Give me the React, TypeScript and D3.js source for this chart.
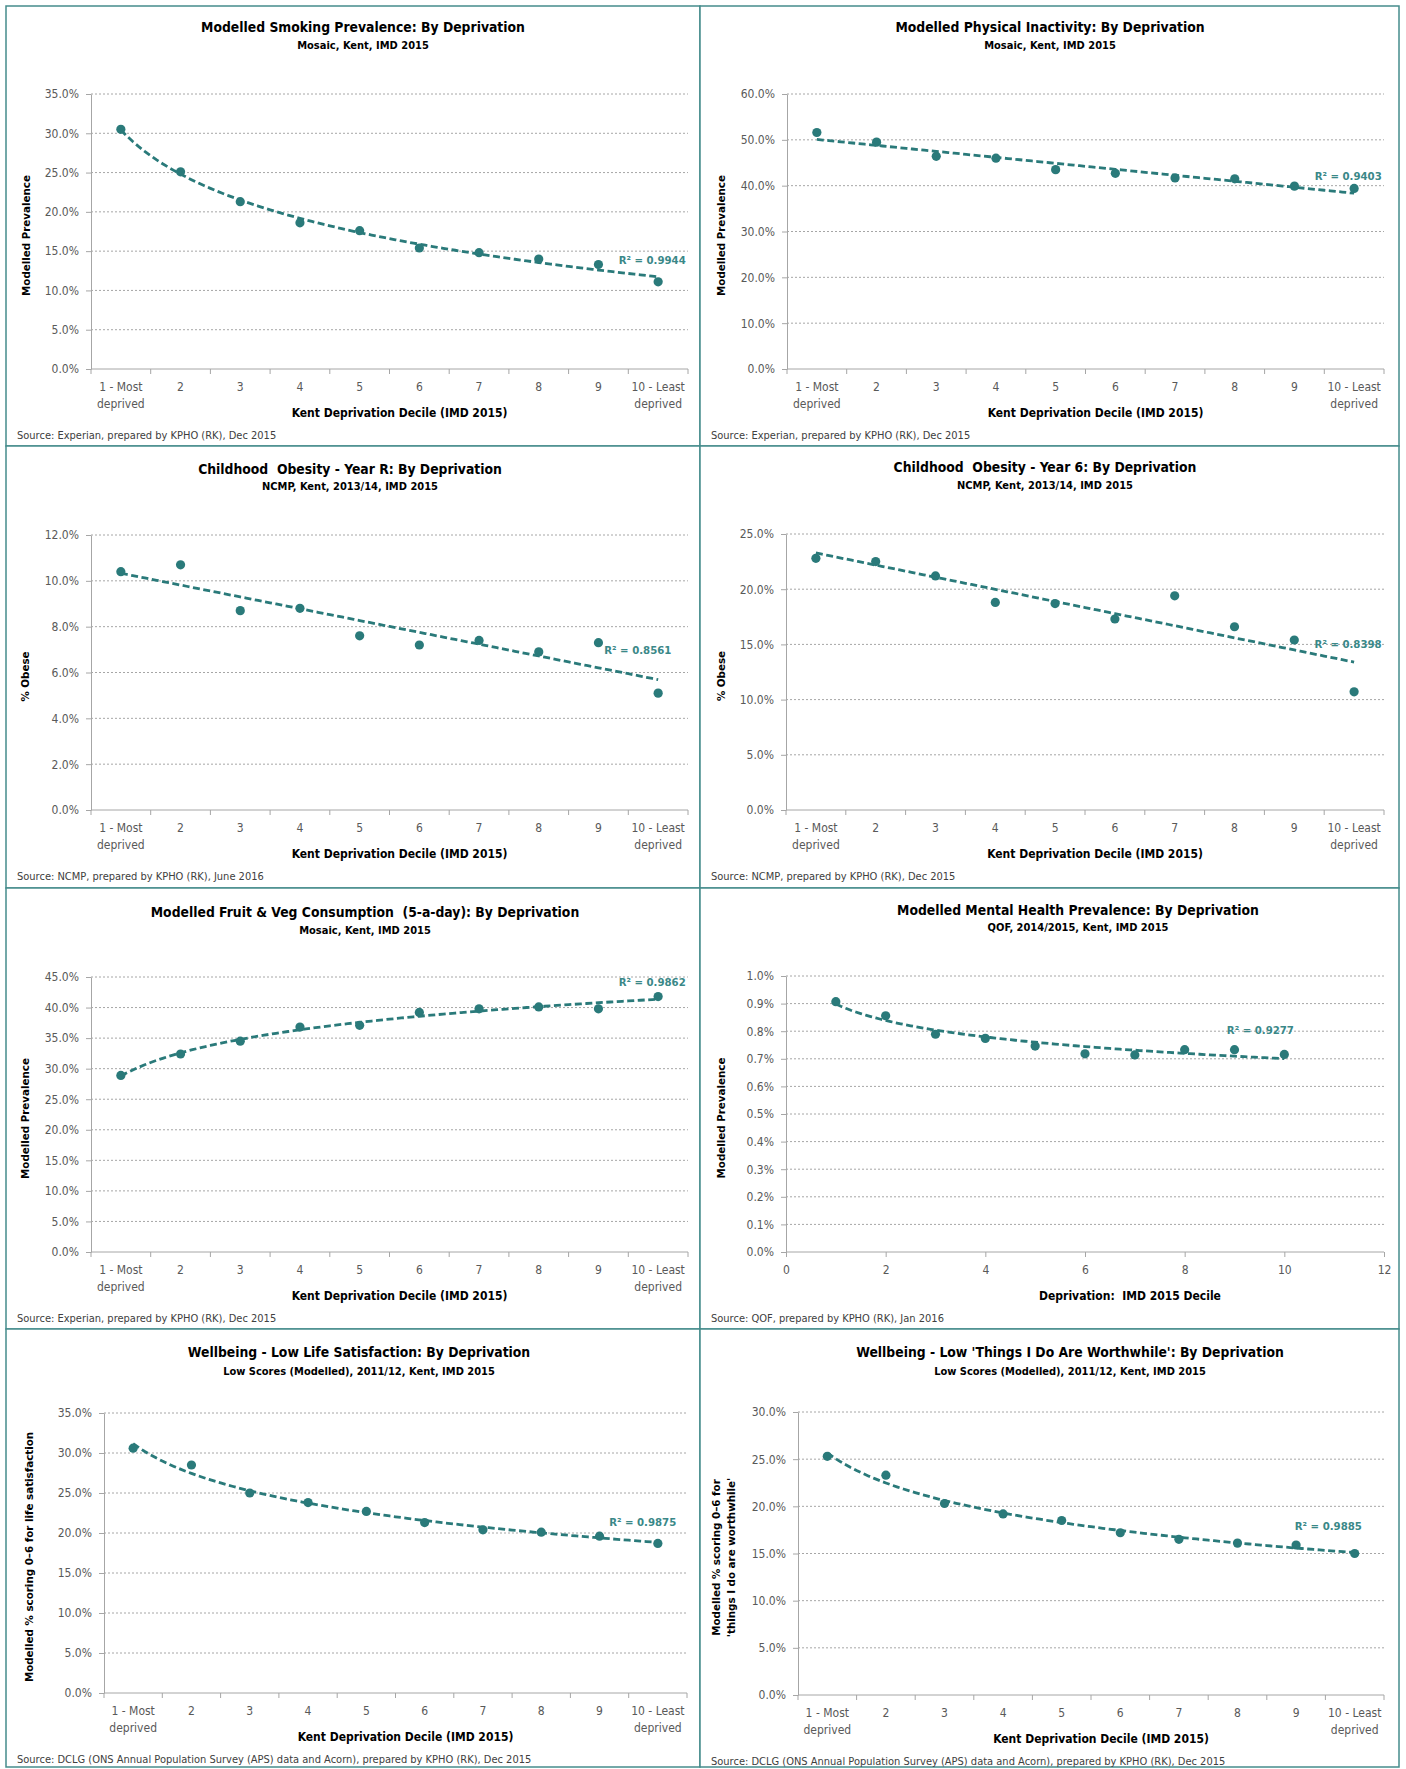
import React, { useEffect, useRef } from 'react';
import * as d3 from 'd3';

// categories (deciles) and their two-line labels
const deciles = ['1 - Most deprived', '2', '3', '4', '5', '6', '7', '8', '9', '10 - Least deprived'];
const decileLines = [['1 - Most', 'deprived'], ['2'], ['3'], ['4'], ['5'], ['6'], ['7'], ['8'], ['9'], ['10 - Least', 'deprived']];
const decileNums = [1, 2, 3, 4, 5, 6, 7, 8, 9, 10];
const mentalTicks = [0, 2, 4, 6, 8, 10, 12];

// series values (percent)
const smoking = [30.5, 25.1, 21.3, 18.6, 17.6, 15.4, 14.8, 14.0, 13.3, 11.1];
const inactivity = [51.6, 49.5, 46.4, 46.0, 43.5, 42.7, 41.7, 41.5, 39.9, 39.4];
const obesityR = [10.4, 10.7, 8.7, 8.8, 7.6, 7.2, 7.4, 6.9, 7.3, 5.1];
const obesity6 = [22.8, 22.5, 21.2, 18.8, 18.7, 17.3, 19.4, 16.6, 15.4, 10.7];
const fruitVeg = [28.9, 32.4, 34.5, 36.8, 37.1, 39.2, 39.8, 40.1, 39.8, 41.8];
const mentalHealth = [0.907, 0.856, 0.789, 0.774, 0.746, 0.718, 0.714, 0.733, 0.733, 0.716];
const lifeSatisfaction = [30.6, 28.5, 25.0, 23.8, 22.7, 21.3, 20.4, 20.1, 19.6, 18.7];
const worthwhile = [25.3, 23.3, 20.3, 19.2, 18.5, 17.2, 16.5, 16.1, 15.9, 15.0];

// R² labels as printed
const r2Labels = ['0.9944', '0.9403', '0.8561', '0.8398', '0.9862', '0.9277', '0.9875', '0.9885'];

const KENT_X = 'Kent Deprivation Decile (IMD 2015)';
const SRC_EXPERIAN = 'Source: Experian, prepared by KPHO (RK), Dec 2015';
const SRC_DCLG = 'Source: DCLG (ONS Annual Population Survey (APS) data and Acorn), prepared by KPHO (RK), Dec 2015';

const TEAL = '#2a7a7a';
const BORDER = '#468c8c';
const AXIS = '#a6a6a6';
const GRID = '#a6a6a6';
const FONT = "'DejaVu Sans Condensed', 'Liberation Sans', Arial, sans-serif";
const YFONT = "'DejaVu Sans', Verdana, sans-serif";

const panels = [
  { values: smoking, r2: r2Labels[0], fit: 'log', yMax: 35, yStep: 5, dec: 1,
    title: 'Modelled Smoking Prevalence: By Deprivation', subtitle: 'Mosaic, Kent, IMD 2015',
    yTitle: ['Modelled Prevalence'], xTitle: KENT_X, source: SRC_EXPERIAN,
    x0: 6, y0: 6, w: 694, h: 440, left: 85, right: 682, top: 88, bottom: 363,
    titleX: 357, titleY: 26, subY: 43, yTitleX: [24], labelAt: [9.9, 13.9] },
  { values: inactivity, r2: r2Labels[1], fit: 'linear', yMax: 60, yStep: 10, dec: 1,
    title: 'Modelled Physical Inactivity: By Deprivation', subtitle: 'Mosaic, Kent, IMD 2015',
    yTitle: ['Modelled Prevalence'], xTitle: KENT_X, source: SRC_EXPERIAN,
    x0: 700, y0: 6, w: 699, h: 440, left: 87, right: 684, top: 88, bottom: 363,
    titleX: 350, titleY: 26, subY: 43, yTitleX: [25], labelAt: [9.9, 42.0] },
  { values: obesityR, r2: r2Labels[2], fit: 'linear', yMax: 12, yStep: 2, dec: 1,
    title: 'Childhood  Obesity - Year R: By Deprivation', subtitle: 'NCMP, Kent, 2013/14, IMD 2015',
    yTitle: ['% Obese'], xTitle: KENT_X, source: 'Source: NCMP, prepared by KPHO (RK), June 2016',
    x0: 6, y0: 446, w: 694, h: 442, left: 85, right: 682, top: 89, bottom: 364,
    titleX: 344, titleY: 28, subY: 44, yTitleX: [23], labelAt: [9.66, 6.98] },
  { values: obesity6, r2: r2Labels[3], fit: 'linear', yMax: 25, yStep: 5, dec: 1,
    title: 'Childhood  Obesity - Year 6: By Deprivation', subtitle: 'NCMP, Kent, 2013/14, IMD 2015',
    yTitle: ['% Obese'], xTitle: KENT_X, source: 'Source: NCMP, prepared by KPHO (RK), Dec 2015',
    x0: 700, y0: 446, w: 699, h: 442, left: 86, right: 684, top: 88, bottom: 364,
    titleX: 345, titleY: 26, subY: 43, yTitleX: [24.5], labelAt: [9.9, 15.06] },
  { values: fruitVeg, r2: r2Labels[4], fit: 'log', yMax: 45, yStep: 5, dec: 1,
    title: 'Modelled Fruit & Veg Consumption  (5-a-day): By Deprivation', subtitle: 'Mosaic, Kent, IMD 2015',
    yTitle: ['Modelled Prevalence'], xTitle: KENT_X, source: SRC_EXPERIAN,
    x0: 6, y0: 888, w: 694, h: 441, left: 85, right: 682, top: 89, bottom: 364,
    titleX: 359, titleY: 28.5, subY: 45.5, yTitleX: [23], labelAt: [9.9, 44.1] },
  { values: mentalHealth, r2: r2Labels[5], fit: 'log', yMax: 1.0, yStep: 0.1, dec: 1, numericX: true,
    title: 'Modelled Mental Health Prevalence: By Deprivation', subtitle: 'QOF, 2014/2015, Kent, IMD 2015',
    yTitle: ['Modelled Prevalence'], xTitle: 'Deprivation:  IMD 2015 Decile', source: 'Source: QOF, prepared by KPHO (RK), Jan 2016',
    x0: 700, y0: 888, w: 699, h: 441, left: 86, right: 684, top: 88, bottom: 364,
    titleX: 378, titleY: 26.5, subY: 43, yTitleX: [25], labelAt: [9.52, 0.803], xTitleX: 430 },
  { values: lifeSatisfaction, r2: r2Labels[6], fit: 'log', yMax: 35, yStep: 5, dec: 1,
    title: 'Wellbeing - Low Life Satisfaction: By Deprivation', subtitle: 'Low Scores (Modelled), 2011/12, Kent, IMD 2015',
    yTitle: ['Modelled % scoring 0–6 for life satisfaction'], xTitle: KENT_X, source: SRC_DCLG,
    x0: 6, y0: 1329, w: 694, h: 438, left: 98, right: 681, top: 84, bottom: 364,
    titleX: 353, titleY: 28.3, subY: 46, yTitleX: [26.5], labelAt: [9.74, 21.4] },
  { values: worthwhile, r2: r2Labels[7], fit: 'log', yMax: 30, yStep: 5, dec: 1,
    title: "Wellbeing - Low 'Things I Do Are Worthwhile': By Deprivation", subtitle: 'Low Scores (Modelled), 2011/12, Kent, IMD 2015',
    yTitle: ['Modelled % scoring 0–6 for', "'things I do are worthwhile'"], xTitle: KENT_X, source: SRC_DCLG,
    x0: 700, y0: 1329, w: 699, h: 438, left: 98, right: 684, top: 83, bottom: 366,
    titleX: 370, titleY: 28.3, subY: 46, yTitleX: [20, 35], labelAt: [9.55, 17.9] },
];

// least squares fit, linear or logarithmic (Excel style trendline)
const trend = (xs: number[], ys: number[], type: string) => {
  const tx = xs.map(x => (type === 'log' ? Math.log(x) : x));
  const mx = d3.mean(tx) as number;
  const my = d3.mean(ys) as number;
  const b = d3.sum(tx, (t, i) => (t - mx) * (ys[i] - my)) / d3.sum(tx, t => (t - mx) ** 2);
  const a = my - b * mx;
  return (x: number) => a + b * (type === 'log' ? Math.log(x) : x);
};

const drawPanel = (svg: any, p: any) => {
  const g = svg.append('g').attr('transform', `translate(${p.x0},${p.y0})`);

  g.append('rect')
    .attr('width', p.w).attr('height', p.h)
    .attr('fill', 'white').attr('stroke', BORDER).attr('stroke-width', 1.5);

  const y = d3.scaleLinear().domain([0, p.yMax]).range([p.bottom, p.top]);
  const ticks = d3.range(0, p.yMax + p.yStep / 2, p.yStep);

  // x position of a decile value
  let xScale: (v: number) => number;
  if (p.numericX) {
    const xl = d3.scaleLinear().domain([0, 12]).range([p.left, p.right]);
    xScale = v => xl(v);
    const xa = g.append('g').attr('transform', `translate(0,${p.bottom})`)
      .call(d3.axisBottom(xl).tickValues(mentalTicks).tickSize(5).tickSizeOuter(0).tickPadding(8.5));
    xa.select('.domain').remove();
    xa.attr('font-family', FONT).attr('font-size', 12);
    xa.selectAll('.tick line').attr('stroke', AXIS);
    xa.selectAll('.tick text').attr('fill', '#595959');
  } else {
    const xb = d3.scaleBand().domain(deciles).range([p.left, p.right]);
    const xl = d3.scaleLinear().domain([1, 10])
      .range([(xb(deciles[0]) as number) + xb.bandwidth() / 2, (xb(deciles[9]) as number) + xb.bandwidth() / 2]);
    xScale = v => xl(v);

    // category labels
    const xa = g.append('g').attr('transform', `translate(0,${p.bottom})`)
      .call(d3.axisBottom(xb).tickSize(0).tickPadding(13.5));
    xa.select('.domain').remove();
    xa.attr('font-family', FONT).attr('font-size', 12);
    xa.selectAll('.tick text').attr('fill', '#595959').each(function (this: any, d: any) {
      const t = d3.select(this);
      t.text(null);
      decileLines[deciles.indexOf(d)].forEach((line, i) => {
        t.append('tspan').attr('x', 0).attr('dy', i === 0 ? '0.71em' : '1.42em').text(line);
      });
    });
    // tick marks between categories
    g.append('g').selectAll('line')
      .data([...deciles.map(d => xb(d) as number), p.right])
      .join('line')
      .attr('x1', (d: number) => d).attr('x2', (d: number) => d)
      .attr('y1', p.bottom).attr('y2', p.bottom + 5)
      .attr('stroke', AXIS);
  }

  // gridlines
  g.append('g').selectAll('line')
    .data(ticks.filter(t => t > 0))
    .join('line')
    .attr('x1', p.left).attr('x2', p.right)
    .attr('y1', (d: number) => y(d)).attr('y2', (d: number) => y(d))
    .attr('stroke', GRID).attr('stroke-width', 1).attr('stroke-dasharray', '2,2');

  // x axis line
  g.append('line')
    .attr('x1', p.left).attr('x2', p.right).attr('y1', p.bottom).attr('y2', p.bottom)
    .attr('stroke', AXIS);

  // y axis
  const ya = g.append('g').attr('transform', `translate(${p.left},0)`)
    .call(d3.axisLeft(y).tickValues(ticks)
      .tickFormat((d: any) => `${(+d).toFixed(p.dec)}%`)
      .tickSize(5).tickSizeOuter(0).tickPadding(7));
  ya.attr('font-family', FONT).attr('font-size', 12);
  ya.select('.domain').attr('stroke', AXIS);
  ya.selectAll('.tick line').attr('stroke', AXIS);
  ya.selectAll('.tick text').attr('fill', '#595959');

  // trendline
  const f = trend(decileNums, p.values, p.fit);
  const line = d3.line<number>().x(v => xScale(v)).y(v => y(f(v)));
  g.append('path')
    .datum(d3.range(1, 10.001, 0.1))
    .attr('d', line)
    .attr('fill', 'none')
    .attr('stroke', TEAL).attr('stroke-width', 2.8)
    .attr('stroke-dasharray', '7,3.5');

  // points
  g.append('g').selectAll('circle')
    .data(p.values)
    .join('circle')
    .attr('cx', (_: number, i: number) => xScale(decileNums[i]))
    .attr('cy', (d: number) => y(d))
    .attr('r', 4.6)
    .attr('fill', TEAL);

  // R² label
  g.append('text')
    .attr('x', xScale(p.labelAt[0])).attr('y', y(p.labelAt[1]))
    .attr('dy', '0.35em')
    .attr('text-anchor', 'middle')
    .attr('font-family', FONT).attr('font-size', 11.3).attr('font-weight', 'bold')
    .attr('fill', '#3a8888')
    .text(`R² = ${p.r2}`);

  // titles
  g.append('text')
    .attr('x', p.titleX).attr('y', p.titleY)
    .attr('text-anchor', 'middle')
    .attr('font-family', FONT).attr('font-size', 13.8).attr('font-weight', 'bold')
    .attr('fill', '#000')
    .style('white-space', 'pre')
    .text(p.title);
  g.append('text')
    .attr('x', p.titleX).attr('y', p.subY)
    .attr('text-anchor', 'middle')
    .attr('font-family', FONT).attr('font-size', 11).attr('font-weight', 'bold')
    .attr('fill', '#000')
    .text(p.subtitle);

  // axis titles
  g.append('text')
    .attr('x', p.xTitleX ?? (p.left + p.right) / 2 + 10).attr('y', p.bottom + 48)
    .attr('text-anchor', 'middle')
    .attr('font-family', FONT).attr('font-size', 12).attr('font-weight', 'bold')
    .attr('fill', '#000')
    .style('white-space', 'pre')
    .text(p.xTitle);

  const cy = (p.top + p.bottom) / 2 + 4;
  p.yTitle.forEach((t: string, i: number) => {
    g.append('text')
      .attr('transform', `translate(${p.yTitleX[i]},${cy}) rotate(-90)`)
      .attr('text-anchor', 'middle')
      .attr('font-family', YFONT).attr('font-size', 10.3).attr('font-weight', 'bold')
      .attr('fill', '#000')
      .text(t);
  });

  // source
  g.append('text')
    .attr('x', 11).attr('y', p.bottom + 70)
    .attr('font-family', FONT).attr('font-size', 11)
    .attr('fill', '#404040')
    .text(p.source);
};

const App = () => {
  const svgRef = useRef<SVGSVGElement>(null);

  useEffect(() => {
    const svg = d3.select(svgRef.current);
    svg.selectAll('*').remove();
    svg.append('rect').attr('width', 1406).attr('height', 1769).attr('fill', 'white');
    panels.forEach(p => drawPanel(svg, p));
  }, []);

  return (
    <svg
      ref={svgRef}
      width={1406}
      height={1769}
      style={{ position: 'absolute', left: 0, top: 0, display: 'block' }}
    />
  );
};

export default App;
